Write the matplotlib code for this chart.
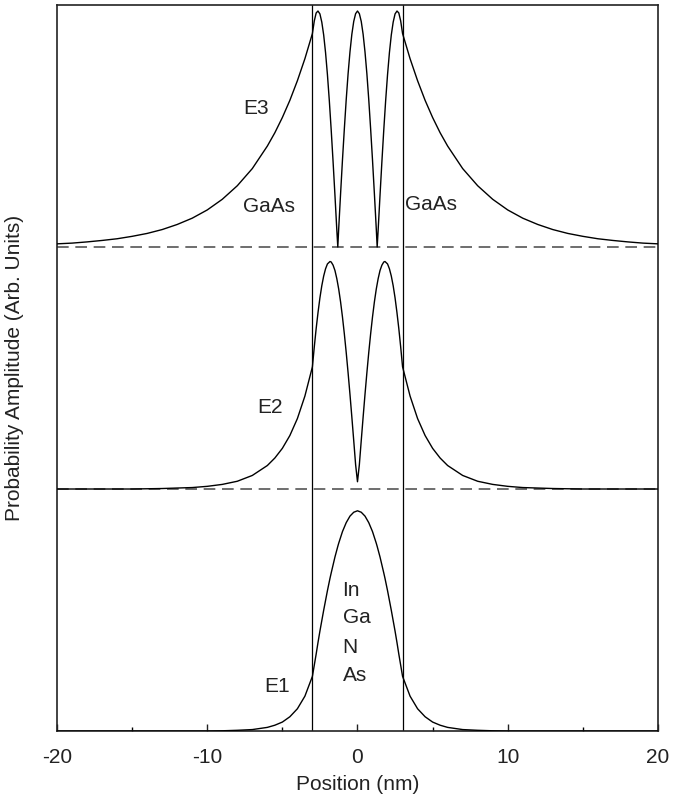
#!/usr/bin/env python3

import matplotlib
matplotlib.use("Agg")
import matplotlib.pyplot as plt
from matplotlib.ticker import MultipleLocator

plt.rcParams["font.family"] = ["Liberation Sans", "DejaVu Sans"]
plt.rcParams["axes.unicode_minus"] = False

# ground state: position (nm) and probability amplitude
pos_e1 = [
    -20, -19, -18, -17, -16, -15, -14, -13, -12, -11, -10, -9, -8, -7, -6,
    -5.5, -5, -4.5, -4, -3.5, -3, -2.75, -2.63, -2.5, -2.25, -2, -1.83, -1.75,
    -1.5, -1.31, -1.25, -1, -0.75, -0.5, -0.25, 0,
    0.25, 0.5, 0.75, 1, 1.25, 1.31, 1.5, 1.75, 1.83, 2, 2.25, 2.5, 2.63, 2.75,
    3, 3.5, 4, 4.5, 5, 5.5, 6, 7, 8, 9, 10, 11, 12, 13, 14, 15, 16, 17, 18, 19, 20,
]
e1 = [
    0, 0, 0, 0, 0, 0, 0, 0, 0, 0, 0, 0.001, 0.003, 0.006, 0.015,
    0.024, 0.037, 0.059, 0.092, 0.144, 0.226, 0.318, 0.365, 0.413, 0.499, 0.580, 0.631, 0.653,
    0.719, 0.763, 0.776, 0.824, 0.861, 0.888, 0.904, 0.910,
    0.904, 0.888, 0.861, 0.824, 0.776, 0.763, 0.719, 0.653, 0.631, 0.580, 0.499, 0.413, 0.365, 0.318,
    0.226, 0.144, 0.092, 0.059, 0.037, 0.024, 0.015, 0.006, 0.003, 0.001, 0, 0, 0, 0, 0, 0, 0, 0, 0, 0, 0,
]

# second state
pos_e2 = [
    -20, -19, -18, -17, -16, -15, -14, -13, -12, -11, -10, -9, -8, -7, -6,
    -5.5, -5, -4.5, -4, -3.5,
    -3, -2.875, -2.75, -2.625, -2.5, -2.375, -2.25, -2.125, -2, -1.83, -1.75, -1.625,
    -1.5, -1.375, -1.25, -1.125, -1, -0.875, -0.75, -0.625, -0.5, -0.375, -0.25, -0.125, 0,
    0.125, 0.25, 0.375, 0.5, 0.625, 0.75, 0.875, 1, 1.125, 1.25, 1.375, 1.5,
    1.625, 1.75, 1.83, 2, 2.125, 2.25, 2.375, 2.5, 2.625, 2.75, 2.875, 3,
    3.5, 4, 4.5, 5, 5.5, 6, 7, 8, 9, 10, 11, 12, 13, 14, 15, 16, 17, 18, 19, 20,
]
e2 = [
    0, 0, 0, 0, 0, 0, 0.001, 0.002, 0.004, 0.006, 0.011, 0.019, 0.032, 0.056, 0.097,
    0.128, 0.168, 0.221, 0.291, 0.384,
    0.505, 0.587, 0.663, 0.730, 0.790, 0.840, 0.880, 0.910, 0.930, 0.940, 0.938, 0.925,
    0.903, 0.869, 0.826, 0.773, 0.711, 0.641, 0.564, 0.480, 0.391, 0.297, 0.200, 0.101, 0.030,
    0.101, 0.200, 0.297, 0.391, 0.480, 0.564, 0.641, 0.711, 0.773, 0.826, 0.869, 0.903,
    0.925, 0.938, 0.940, 0.930, 0.910, 0.880, 0.840, 0.790, 0.730, 0.663, 0.587, 0.505,
    0.384, 0.291, 0.221, 0.168, 0.128, 0.097, 0.056, 0.032, 0.019, 0.011, 0.006, 0.004, 0.002, 0.001, 0, 0, 0, 0, 0, 0,
]

# third state
pos_e3 = [
    -20, -19, -18, -17, -16, -15, -14, -13, -12, -11, -10, -9, -8, -7, -6,
    -5.5, -5, -4.5, -4, -3.5,
    -3, -2.875, -2.75, -2.63, -2.5, -2.375, -2.25, -2.125, -2, -1.875, -1.75, -1.625,
    -1.5, -1.375, -1.31, -1.25, -1.125, -1, -0.875, -0.75, -0.625, -0.5, -0.375, -0.25, -0.125, 0,
    0.125, 0.25, 0.375, 0.5, 0.625, 0.75, 0.875, 1, 1.125, 1.25, 1.31, 1.375, 1.5,
    1.625, 1.75, 1.875, 2, 2.125, 2.25, 2.375, 2.5, 2.63, 2.75, 2.875, 3,
    3.5, 4, 4.5, 5, 5.5, 6, 7, 8, 9, 10, 11, 12, 13, 14, 15, 16, 17, 18, 19, 20,
]
e3 = [
    0.013, 0.016, 0.021, 0.027, 0.034, 0.044, 0.056, 0.072, 0.093, 0.119, 0.153, 0.197, 0.253, 0.324, 0.417,
    0.472, 0.535, 0.606, 0.687, 0.778,
    0.882, 0.934, 0.967, 0.975, 0.963, 0.929, 0.876, 0.803, 0.712, 0.605, 0.484, 0.353,
    0.214, 0.070, 0.0, 0.076, 0.220, 0.359, 0.488, 0.609, 0.716, 0.806, 0.879, 0.932, 0.964, 0.975,
    0.964, 0.932, 0.879, 0.806, 0.716, 0.609, 0.488, 0.359, 0.220, 0.076, 0.0, 0.070, 0.214,
    0.353, 0.484, 0.605, 0.712, 0.803, 0.876, 0.929, 0.963, 0.975, 0.967, 0.934, 0.882,
    0.778, 0.687, 0.606, 0.535, 0.472, 0.417, 0.324, 0.253, 0.197, 0.153, 0.119, 0.093, 0.072, 0.056, 0.044, 0.034, 0.027, 0.021, 0.016, 0.013,
]

positions = [pos_e1, pos_e2, pos_e3]
states = [e1, e2, e3]
baselines = [0, 1, 2]
well_edges = [-3, 3]

state_labels = ["E1", "E2", "E3"]
state_label_pos = [(-5.36, 0.184), (-5.79, 1.337), (-6.75, 2.574)]
barrier_labels = ["GaAs", "GaAs"]
barrier_label_pos = [(-5.92, 2.169), (4.89, 2.174)]
well_letters = ["In", "Ga", "N", "As"]
well_letter_h = [0.582, 0.468, 0.347, 0.229]

fig = plt.figure(figsize=(6.88, 8.02), dpi=100)
ax = fig.add_axes([0.0828, 0.0885, 0.8736, 0.9053])

for base in baselines[1:]:
    ax.axhline(base, color="#555555", linewidth=1.2, dashes=(7, 4), zorder=1)

for xe in well_edges:
    ax.axvline(xe, color="black", linewidth=0.9, zorder=2)

for base, xs, amp in zip(baselines, positions, states):
    ax.plot(xs, [base + a for a in amp], color="black", linewidth=1.0, zorder=3)

fs = 15
for lab, (x, y) in zip(state_labels, state_label_pos):
    ax.text(x, y, lab, fontsize=fs, ha="center", va="center", color="#222222")
for lab, (x, y) in zip(barrier_labels, barrier_label_pos):
    ax.text(x, y, lab, fontsize=fs, ha="center", va="center", color="#222222")
for lab, y in zip(well_letters, well_letter_h):
    ax.text(-0.99, y, lab, fontsize=fs, ha="left", va="center", color="#222222")

ax.set_xlim(-20, 20)
ax.set_ylim(0, 3)
ax.xaxis.set_major_locator(MultipleLocator(10))
ax.xaxis.set_minor_locator(MultipleLocator(5))
ax.tick_params(axis="x", which="major", direction="in", length=5, width=1.0,
               labelsize=15, pad=12, colors="#222222")
ax.tick_params(axis="x", which="minor", direction="in", length=3, width=1.0)
ax.set_yticks([])

for sp in ax.spines.values():
    sp.set_linewidth(1.2)
    sp.set_color("#222222")

ax.set_xlabel("Position (nm)", fontsize=15, labelpad=6, color="#222222")
ax.set_ylabel("Probability Amplitude (Arb. Units)", fontsize=15, labelpad=24, color="#222222")

fig.savefig("out.png", dpi=100)
